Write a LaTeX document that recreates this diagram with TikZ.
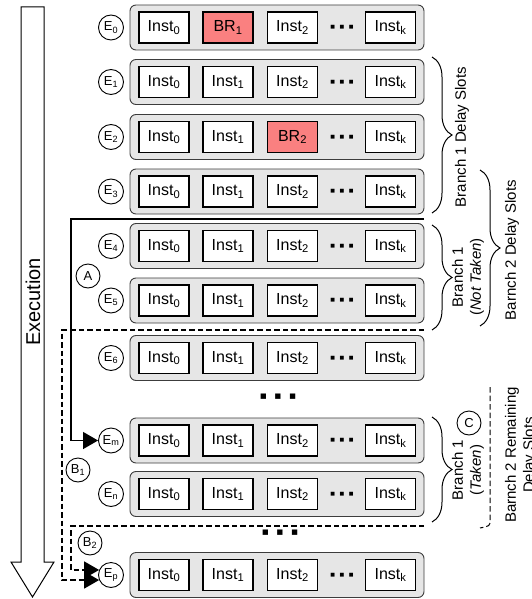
\documentclass[tikz,border=0pt]{standalone}
\usepackage{fontspec}
\setmainfont{Liberation Sans}
\newfontfamily\symfont{DejaVu Sans}
\usepackage{tikz}
\usetikzlibrary{
arrows.meta,
positioning,
decorations.pathreplacing,
calc
}
\definecolor{rowgray}{RGB}{230,230,230}
\definecolor{rowedge}{RGB}{60,60,60}
\definecolor{brred}{RGB}{250,128,128}

\newcommand{\ins}[1]{Inst\textsubscript{#1}}
\newcommand{\brn}[1]{BR\textsubscript{#1}}

\begin{document}
\begin{tikzpicture}[
  x=1pt, y=-1pt,
  row/.style={draw=rowedge, fill=rowgray, rounded corners=6pt, line width=0.9pt, minimum width=294pt, minimum height=45pt},
  inst/.style={draw, fill=white, line width=1.2pt, minimum width=50pt, minimum height=31pt, inner sep=0pt, font=\fontsize{16}{18}\selectfont},
  br/.style={inst, fill=brred},
  stage/.style={circle, draw, line width=0.9pt, minimum size=25pt, inner sep=0pt, font=\fontsize{13}{14}\selectfont},
  tag/.style={circle, draw, line width=0.9pt, minimum size=24pt, inner sep=0pt, font=\fontsize{13}{14}\selectfont},
  brace/.style={decorate, decoration={brace, amplitude=20pt}, line width=1pt},
  note/.style={rotate=90, align=center, font=\fontsize{15}{18}\selectfont},
  flow/.style={line width=1.2pt, -{Triangle[length=15pt, width=17pt]}},
  dashline/.style={dash pattern=on 5.5pt off 3pt},
  hdots/.style={font=\symfont\fontsize{5}{6}\selectfont},
  vdots/.style={font=\symfont\fontsize{7}{8}\selectfont}
]
  \useasboundingbox (0,0) rectangle (531,599);

  % Execution direction
  \draw[line width=1pt] (21,7) -- (44,7) -- (44,562) -- (54,562) -- (32.5,597) -- (11,562) -- (21,562) -- cycle;
  \node[rotate=90, font=\fontsize{20}{22}\selectfont] (exec) at (33,302) {Execution};

  % Pipeline rows
  \foreach \r/\y/\ta/\sa/\tb/\sb in {
      0/27.5/\brn{1}/br/\ins{2}/inst,
      1/82/\ins{1}/inst/\ins{2}/inst,
      2/137/\ins{1}/inst/\brn{2}/br,
      3/191.5/\ins{1}/inst/\ins{2}/inst,
      4/246/\ins{1}/inst/\ins{2}/inst,
      5/300.5/\ins{1}/inst/\ins{2}/inst,
      6/358/\ins{1}/inst/\ins{2}/inst,
      m/440.5/\ins{1}/inst/\ins{2}/inst,
      n/494/\ins{1}/inst/\ins{2}/inst,
      p/575/\ins{1}/inst/\ins{2}/inst} {
    \node[row] (row\r) at (277,\y) {};
    \node[stage] (e\r) at (111,\y) {E\textsubscript{\r}};
    \node[inst] (i\r a) at (164,\y) {\ins{0}};
    \node[\sa] (i\r b) at (228,\y) {\ta};
    \node[\sb] (i\r c) at (292.5,\y) {\tb};
    \node[hdots] (d\r) at (342,\y) {■\hspace{4.5pt}■\hspace{4.5pt}■};
    \node[inst] (i\r k) at (390.5,\y) {\ins{k}};
  }

  % Skipped rows
  \node[vdots] (gap1) at (278,397) {■\hspace{8pt}■\hspace{8pt}■};
  \node[vdots] (gap2) at (280,533) {■\hspace{8pt}■\hspace{8pt}■};

  % Branch redirections
  \coordinate (aStart) at (424,219);
  \coordinate (aTurn) at (71,219);
  \coordinate (bOneStart) at (424,330);
  \coordinate (bOneTurn) at (62,330);
  \coordinate (bTwoStart) at (424,526);
  \coordinate (bTwoTurn) at (71,526);

  \draw[flow] (aStart) -- (aTurn) |- (em.west);
  \draw[flow, dashline] (bOneStart) -- (bOneTurn) |- (ep.203);
  \draw[flow, dashline] (bTwoStart) -- (bTwoTurn) |- (ep.157);

  \node[tag] (la) at (88,276) {A};
  \node[tag] (lbOne) at (78,470) {B\textsubscript{1}};
  \node[tag] (lbTwo) at (90,543) {B\textsubscript{2}};
  \node[tag] (lc) at (469,423) {C};

  % Delay slot braces
  \draw[brace] (432,57) -- (432,213);
  \draw[brace] (432,225) -- (432,330);
  \draw[brace] (480,170) -- (480,326);
  \draw[brace] (432,417) -- (432,522);
  \draw[dashline, line width=1pt] (490,387) -- (490,520) .. controls (490,526) .. (480,528);

  \node[note] (tOne) at (462,137) {Branch 1 Delay Slots};
  \node[note] (tNot) at (468,277) {Branch 1\\(\textit{Not Taken})};
  \node[note] (tTwo) at (512,250) {Barnch 2 Delay Slots};
  \node[note] (tTaken) at (468,470) {Branch 1\\(\textit{Taken})};
  \node[note] (tRest) at (521,455) {Barnch 2 Remaining\\Delay Slots};

\end{tikzpicture}
\end{document}
